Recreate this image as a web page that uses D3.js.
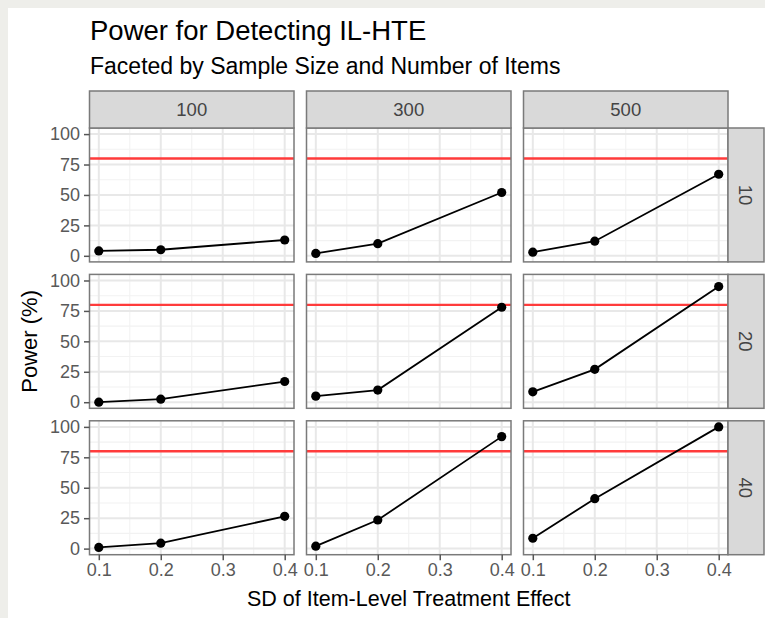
<!DOCTYPE html>
<html>
<head>
<meta charset="utf-8">
<script src="https://cdn.jsdelivr.net/npm/d3@7"></script>
<style>
  html, body { margin: 0; padding: 0; background: #eeeeea; }
  svg { display: block; }
  text { font-family: "Liberation Sans", Arial, Helvetica, sans-serif; }
</style>
</head>
<body>
<div id="chart"></div>
<script>
const sampleSizes = ['100', '300', '500'];
const itemCounts = ['10', '20', '40'];
const sdValues = [0.1, 0.2, 0.4];
const xTicks = [0.1, 0.2, 0.3, 0.4];
const yTicks = [0, 25, 50, 75, 100];
// power (%) per sample size, one array per item count
const power10 = [[4, 5, 13], [2, 10, 52], [3, 12, 67]];
const power20 = [[0, 2.5, 17], [5, 10, 78], [8.5, 27, 95]];
const power40 = [[1, 4.5, 26.5], [2, 23.5, 92], [8.5, 41, 100]];
const targetPower = 80;

const powerByItems = {'10': power10, '20': power20, '40': power40};

const W = 765, H = 618;
const margin = {top: 128, left: 89.5, right: 37, bottom: 63.3};
const gap = 12.5;
const stripH = 37;

const svg = d3.select('#chart')
  .append('svg')
  .attr('width', W)
  .attr('height', H);

svg.append('rect')
  .attr('x', 8).attr('y', 8)
  .attr('width', W - 8).attr('height', H - 8)
  .attr('fill', '#fff');

const colScale = d3.scaleBand()
  .domain(sampleSizes)
  .range([margin.left, W - margin.right])
  .paddingInner(gap / ((W - margin.right - margin.left + gap) / 3));

const rowScale = d3.scaleBand()
  .domain(itemCounts)
  .range([margin.top, H - margin.bottom])
  .paddingInner(gap / ((H - margin.bottom - margin.top + gap) / 3));

const pw = colScale.bandwidth();
const ph = rowScale.bandwidth();

const x = d3.scaleLinear().domain([0.085, 0.415]).range([0, pw]);
const y = d3.scaleLinear().domain([-5, 105]).range([ph, 0]);

const xMinor = [0.15, 0.25, 0.35];
const yMinor = [12.5, 37.5, 62.5, 87.5];

const line = d3.line()
  .x(d => x(d[0]))
  .y(d => y(d[1]));

// title
svg.append('text')
  .attr('x', 90).attr('y', 40)
  .style('font-size', '27.5px')
  .attr('fill', '#000')
  .text('Power for Detecting IL-HTE');

svg.append('text')
  .attr('x', 90).attr('y', 74)
  .style('font-size', '23px')
  .attr('fill', '#000')
  .text('Faceted by Sample Size and Number of Items');

itemCounts.forEach((items, ri) => {
  sampleSizes.forEach((n, ci) => {
    const g = svg.append('g')
      .attr('transform', `translate(${colScale(n)},${rowScale(items)})`);

    g.append('rect')
      .attr('width', pw).attr('height', ph)
      .attr('fill', '#fff');

    g.selectAll('.minor-x').data(xMinor).join('line')
      .attr('x1', d => x(d)).attr('x2', d => x(d))
      .attr('y1', 0).attr('y2', ph)
      .attr('stroke', '#f2f2f2').attr('stroke-width', 1.1);
    g.selectAll('.minor-y').data(yMinor).join('line')
      .attr('y1', d => y(d)).attr('y2', d => y(d))
      .attr('x1', 0).attr('x2', pw)
      .attr('stroke', '#f2f2f2').attr('stroke-width', 1.1);
    g.selectAll('.major-x').data(xTicks).join('line')
      .attr('x1', d => x(d)).attr('x2', d => x(d))
      .attr('y1', 0).attr('y2', ph)
      .attr('stroke', '#e8e8e8').attr('stroke-width', 2);
    g.selectAll('.major-y').data(yTicks).join('line')
      .attr('y1', d => y(d)).attr('y2', d => y(d))
      .attr('x1', 0).attr('x2', pw)
      .attr('stroke', '#e8e8e8').attr('stroke-width', 2);

    g.append('line')
      .attr('x1', 0).attr('x2', pw)
      .attr('y1', y(targetPower)).attr('y2', y(targetPower))
      .attr('stroke', '#ff3b3b').attr('stroke-width', 2.4);

    const pts = sdValues.map((s, i) => [s, powerByItems[items][ci][i]]);
    g.append('path')
      .datum(pts)
      .attr('d', line)
      .attr('fill', 'none')
      .attr('stroke', '#000')
      .attr('stroke-width', 1.8);
    g.selectAll('circle').data(pts).join('circle')
      .attr('cx', d => x(d[0])).attr('cy', d => y(d[1]))
      .attr('r', 4.6)
      .attr('fill', '#000');

    g.append('rect')
      .attr('width', pw).attr('height', ph)
      .attr('fill', 'none')
      .attr('stroke', '#7a7a7a').attr('stroke-width', 1.5);

    // left axis on first column
    if (ci === 0) {
      const ya = g.append('g')
        .call(d3.axisLeft(y).tickValues(yTicks).tickSize(5.5).tickPadding(4).tickFormat(d3.format('d')));
      ya.select('.domain').remove();
      ya.selectAll('.tick line').attr('stroke', '#555').attr('stroke-width', 1.5);
      ya.selectAll('.tick text')
        .attr('fill', '#595959')
        .style('font-size', '18px')
        .style('font-family', '"Liberation Sans", Arial, sans-serif');
    }
    // bottom axis on last row
    if (ri === itemCounts.length - 1) {
      const xa = g.append('g')
        .attr('transform', `translate(0,${ph})`)
        .call(d3.axisBottom(x).tickValues(xTicks).tickSize(5.5).tickPadding(3).tickFormat(d3.format('.1f')));
      xa.select('.domain').remove();
      xa.selectAll('.tick line').attr('stroke', '#555').attr('stroke-width', 1.5);
      xa.selectAll('.tick text')
        .attr('fill', '#595959')
        .style('font-size', '18px')
        .style('font-family', '"Liberation Sans", Arial, sans-serif');
    }
  });
});

// top strips
sampleSizes.forEach(n => {
  const sx = colScale(n);
  svg.append('rect')
    .attr('x', sx).attr('y', margin.top - stripH)
    .attr('width', pw).attr('height', stripH)
    .attr('fill', '#d9d9d9')
    .attr('stroke', '#7a7a7a').attr('stroke-width', 1.5);
  svg.append('text')
    .attr('x', sx + pw / 2).attr('y', margin.top - stripH / 2)
    .attr('dy', '0.36em')
    .attr('text-anchor', 'middle')
    .attr('fill', '#444')
    .style('font-size', '18.5px')
    .text(n);
});

// right strips
itemCounts.forEach(items => {
  const sy = rowScale(items);
  const sx = W - margin.right;
  svg.append('rect')
    .attr('x', sx).attr('y', sy)
    .attr('width', stripH - 1).attr('height', ph)
    .attr('fill', '#d9d9d9')
    .attr('stroke', '#7a7a7a').attr('stroke-width', 1.5);
  svg.append('text')
    .attr('transform', `translate(${sx + (stripH - 1) / 2},${sy + ph / 2}) rotate(90)`)
    .attr('dy', '0.36em')
    .attr('text-anchor', 'middle')
    .attr('fill', '#444')
    .style('font-size', '18.5px')
    .text(items);
});

// axis titles
svg.append('text')
  .attr('x', (margin.left + W - margin.right) / 2)
  .attr('y', 606)
  .attr('text-anchor', 'middle')
  .attr('fill', '#000')
  .style('font-size', '21.5px')
  .text('SD of Item-Level Treatment Effect');

svg.append('text')
  .attr('transform', `translate(37,${(margin.top + H - margin.bottom) / 2}) rotate(-90)`)
  .attr('text-anchor', 'middle')
  .attr('fill', '#000')
  .style('font-size', '22px')
  .text('Power (%)');
</script>
</body>
</html>
